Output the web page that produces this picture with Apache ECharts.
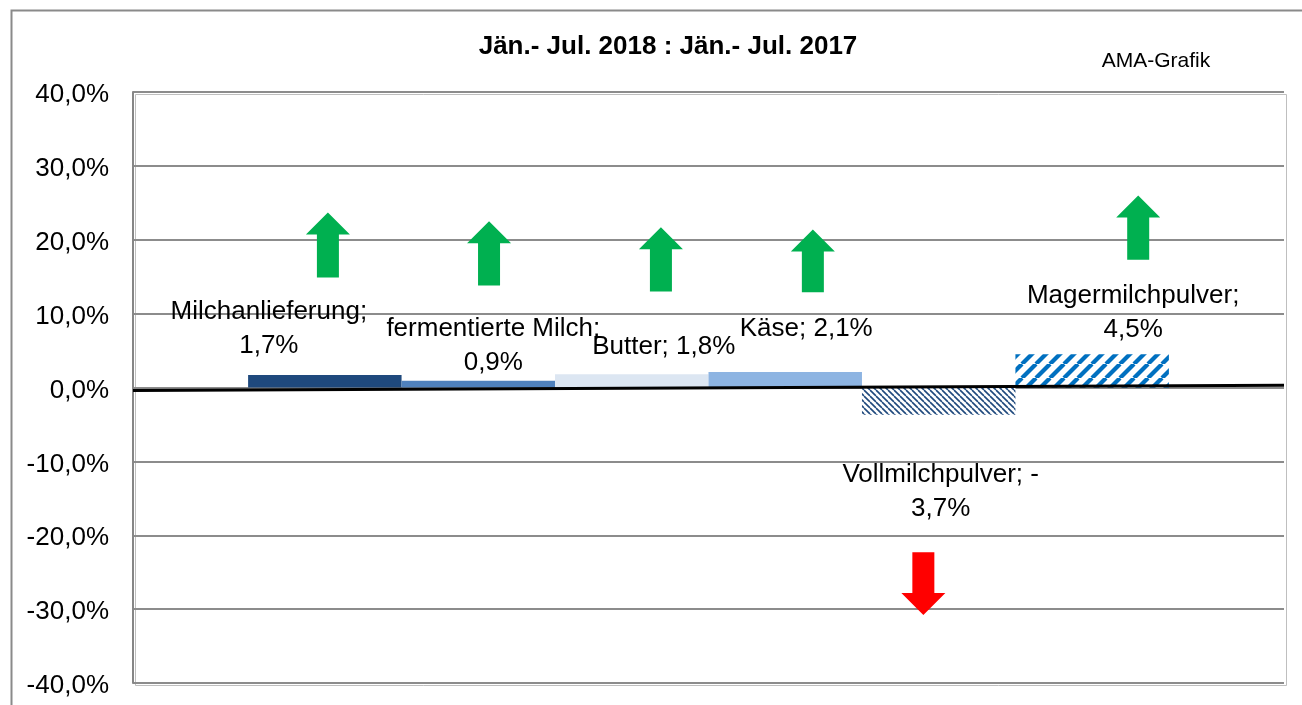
<!DOCTYPE html>
<html>
<head>
<meta charset="utf-8">
<script src="https://cdn.jsdelivr.net/npm/echarts@6/dist/echarts.min.js"></script>
<style>
html,body{margin:0;padding:0;background:#fff;}
#chart{width:1302px;height:705px;}
</style>
</head>
<body>
<div id="chart"></div>
<script>
// ---- data ----
const titleText = 'Jän.- Jul. 2018 : Jän.- Jul. 2017';
const sourceText = 'AMA-Grafik';
const categories = ['Milchanlieferung', 'fermentierte Milch', 'Butter', 'Käse', 'Vollmilchpulver', 'Magermilchpulver'];
const values = [1.7, 0.9, 1.8, 2.1, -3.7, 4.5];
const labelWrap = [true, true, false, false, true, true];
const yMin = -40, yMax = 40, yStep = 10;
// arrows: position in bar units (bar i centre = i), tip value, base value
const arrowX = [0.02, 1.07, 2.19, 3.18, 3.90, 5.30];
const arrowTip = [23.7, 22.5, 21.7, 21.4, -30.8, 26.0];
const arrowBase = [14.9, 13.8, 13.0, 12.9, -22.3, 17.3];
const arrowColor = ['#00B050', '#00B050', '#00B050', '#00B050', '#FF0000', '#00B050'];
// slightly tilted zero line (value at left edge, value at right edge)
const zeroLine = [-0.4, 0.3];

// ---- styles ----
const FONT = 'Liberation Sans, Arial, sans-serif';
function stripes(color, period, width, dir) {
  const c = document.createElement('canvas');
  c.width = period; c.height = period;
  const g = c.getContext('2d');
  g.fillStyle = '#fff'; g.fillRect(0, 0, period, period);
  g.strokeStyle = color; g.lineWidth = width;
  for (let k = -1; k <= 1; k++) {
    g.beginPath();
    if (dir === '/') { g.moveTo(k * period, period); g.lineTo(k * period + period, 0); }
    else { g.moveTo(k * period, 0); g.lineTo(k * period + period, period); }
    g.stroke();
  }
  return {image: c, repeat: 'repeat'};
}
const barColors = [
  '#1F497D', '#4F81BD', '#DCE6F2', '#8DB4E2',
  stripes('#1F497D', 6, 1.6, '\\'),
  stripes('#0070C0', 14, 4.2, '/')
];
const labelOffsets = [[-56, -52], [15, -38], [32, -34], [21, -51], [2, 91], [41, -58]];

function pct(v) { return v.toFixed(1).replace('.', ',') + '%'; }
function labelText(i) {
  const v = values[i];
  if (labelWrap[i]) {
    if (v < 0) return categories[i] + '; -\n' + pct(Math.abs(v));
    return categories[i] + ';\n' + pct(v);
  }
  return categories[i] + '; ' + pct(v);
}

const series = categories.map((name, i) => ({
  name: name,
  type: 'bar',
  xAxisIndex: 0,
  yAxisIndex: 0,
  barGap: '0%',
  barCategoryGap: '20%',
  data: [values[i]],
  itemStyle: {color: barColors[i]},
  label: {
    show: true,
    position: 'inside',
    offset: labelOffsets[i],
    formatter: () => labelText(i),
    color: '#000',
    fontFamily: FONT,
    fontSize: 26,
    lineHeight: 34,
    align: 'center',
    verticalAlign: 'middle'
  },
  z: 3
}));

series.push({
  type: 'custom',
  name: 'arrows',
  xAxisIndex: 1,
  yAxisIndex: 0,
  data: arrowX.map((x, i) => [x, arrowTip[i], arrowBase[i], i]),
  renderItem: function (params, api) {
    const x = api.value(0);
    const t = api.coord([x, api.value(1)]);
    const b = api.coord([x, api.value(2)]);
    const dir = b[1] > t[1] ? 1 : -1;
    const hh = 22, hw = 22, sw = 11;
    const cx = t[0], hy = t[1] + dir * hh;
    return {
      type: 'polygon',
      shape: {points: [[cx, t[1]], [cx + hw, hy], [cx + sw, hy], [cx + sw, b[1]], [cx - sw, b[1]], [cx - sw, hy], [cx - hw, hy]]},
      style: {fill: arrowColor[api.value(3)]}
    };
  },
  markLine: {
    silent: true,
    symbol: 'none',
    label: {show: false},
    lineStyle: {color: '#000', width: 3, type: 'solid'},
    data: [[{coord: [-1.25, zeroLine[0]]}, {coord: [6.25, zeroLine[1]]}]]
  },
  z: 4
});

const chart = echarts.init(document.getElementById('chart'));
chart.setOption({
  animation: false,
  backgroundColor: '#fff',
  title: [
    {text: titleText, left: 663, top: 29, textAlign: 'center',
     textStyle: {fontFamily: FONT, fontSize: 26, fontWeight: 'bold', color: '#000'}},
    {text: sourceText, left: 1151, top: 46, textAlign: 'center',
     textStyle: {fontFamily: FONT, fontSize: 21, fontWeight: 'normal', color: '#000'}}
  ],
  graphic: [
    {type: 'rect', left: 9, top: 8, shape: {width: 1400, height: 800},
     style: {fill: 'none', stroke: '#8a8a8a', lineWidth: 2}, z: 0, silent: true},
    {type: 'rect', left: 133, top: 92, shape: {width: 1151, height: 591},
     style: {fill: 'none', stroke: '#bfbfbf', lineWidth: 1}, z: 0, silent: true}
  ],
  grid: {left: 133, right: 18, top: 92, bottom: 22, containLabel: false},
  xAxis: [
    {type: 'category', data: [''], axisLine: {show: false}, axisTick: {show: false}, axisLabel: {show: false}, splitLine: {show: false}},
    {type: 'value', min: -1.25, max: 6.25, show: false}
  ],
  yAxis: {
    type: 'value', min: yMin, max: yMax, interval: yStep,
    axisLine: {show: true, onZero: false, lineStyle: {color: '#868686', width: 2}},
    axisTick: {show: false},
    axisLabel: {
      formatter: v => '{t|' + pct(v) + '}',
      margin: 24,
      rich: {t: {fontFamily: FONT, fontSize: 26, color: '#000', padding: [6, 0, 0, 0]}}
    },
    splitLine: {show: true, lineStyle: {color: '#8c8c8c', width: 2}}
  },
  series: series
});
</script>
</body>
</html>
